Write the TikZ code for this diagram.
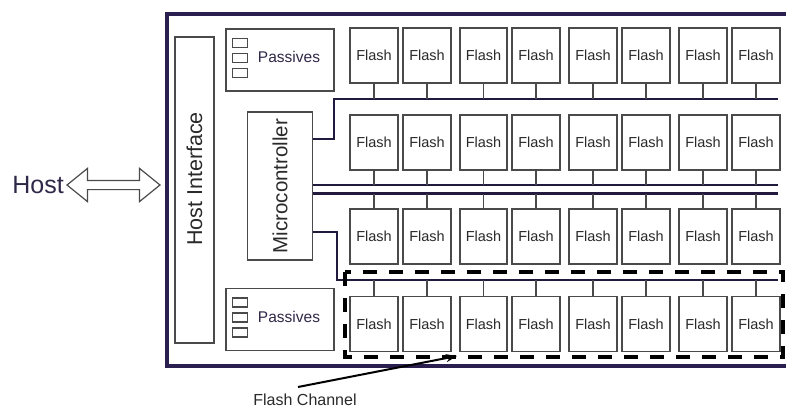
\documentclass[tikz,border=0pt]{standalone}
\usepackage{fontspec}
\setmainfont{Liberation Sans}
\usetikzlibrary{shapes.arrows,arrows.meta}
\definecolor{frame}{HTML}{2A1F4F}
\definecolor{boxline}{HTML}{4A4A4A}
\definecolor{txt}{HTML}{2A2A2A}
\definecolor{ptxt}{HTML}{302848}
\begin{document}
\begin{tikzpicture}[x=1pt,y=-1pt,
  flashbox/.style={draw=boxline,line width=1.7pt,fill=white,minimum width=47.5pt,minimum height=55pt,inner sep=0pt,font=\fontsize{14.5}{15}\selectfont,text=txt},
  plainbox/.style={draw=boxline,line width=1.4pt,inner sep=0pt},
  sq/.style={draw=boxline,line width=1.1pt,minimum width=15pt,minimum height=9pt,inner sep=0pt},
  bus/.style={draw=frame!80!black,line width=2.8pt},
  stub/.style={draw=boxline,line width=1.4pt},
  chan/.style={draw=black,line width=3.6pt,dash pattern=on 14pt off 12pt}]
\useasboundingbox (0,0) rectangle (786,412);
\fill[white] (0,0) rectangle (786,412);
% outer frame (open at right)
\draw[frame,line width=4pt] (786,14) -- (167,14) -- (167,366) -- (786,366);
% host interface
\node[plainbox,minimum width=39pt,minimum height=306pt] (hi) at (194.5,190) {};
\node[rotate=90,font=\fontsize{21.5}{23}\selectfont,text=txt] at ([yshift=11pt]hi.center) {Host Interface};
% microcontroller
\node[plainbox,minimum width=65pt,minimum height=148pt] (mc) at (280,186) {};
\node[rotate=90,font=\fontsize{20.5}{22}\selectfont,text=txt] at (mc.center) {Microcontroller};
% passives
\foreach \n/\yc in {pt/60,pb/319.5}{
  \node[plainbox,minimum width=108pt,minimum height=62pt] (\n) at (280,\yc) {};
  \node[font=\fontsize{15.5}{17}\selectfont,text=ptxt] at ([xshift=9pt,yshift=3pt]\n.center) {Passives};
  \node[sq] (\n a) at ([xshift=-40pt,yshift=17pt]\n.center) {};
  \node[sq] (\n b) at ([xshift=-40pt,yshift=2pt]\n.center) {};
  \node[sq] (\n c) at ([xshift=-40pt,yshift=-13pt]\n.center) {};
}
% host arrow
\node[font=\fontsize{25}{26}\selectfont,text=ptxt,anchor=east,inner sep=0pt] (host) at (64,185) {Host};
\node[double arrow,draw=boxline,line width=1.2pt,fill=white,minimum height=93pt,minimum width=32pt,
      double arrow head extend=12pt,double arrow tip angle=78,inner sep=4pt] (harrow) at (113.5,185) {};
% bus coordinates
\coordinate (b1) at (778,99);
\coordinate (b2) at (778,185);
\coordinate (b3) at (778,193.5);
\coordinate (b4) at (778,280);
\coordinate (k1) at (334,99);
\coordinate (k4) at (337,280);
% buses
\draw[bus] (mc.east |- 0,139) -| (k1) -- (b1);
\draw[bus] (mc.east |- b2) -- (b2);
\draw[bus] (mc.east |- b3) -- (b3);
\draw[bus] (mc.east |- 0,232) -| (k4) -- (b4);
% flash boxes
\foreach \c/\x in {1/374,2/427,3/483.5,4/536,5/593,6/646,7/703,8/756}{
  \node[flashbox] (f1\c) at (\x,55.5) {Flash};
  \node[flashbox] (f2\c) at (\x,142.5) {Flash};
  \node[flashbox] (f3\c) at (\x,236.5) {Flash};
  \node[flashbox] (f4\c) at (\x,324) {Flash};
  \draw[stub] (f1\c.south) -- (f1\c.south |- b1);
  \draw[stub] (f2\c.south) -- (f2\c.south |- b2);
  \draw[stub] (f3\c.north) -- (f3\c.north |- b3);
  \draw[stub] (f4\c.north) -- (f4\c.north |- b4);
}
% flash channel
\draw[chan] (345,272) rectangle (783,357);
\node[font=\fontsize{16}{17}\selectfont,text=txt] (fc) at (305,400) {Flash Channel};
\coordinate (fctip) at (457,356);
\draw[line width=2pt,-{Stealth[length=11pt,width=8pt]}] (298,387) -- (fctip);
\end{tikzpicture}
\end{document}
